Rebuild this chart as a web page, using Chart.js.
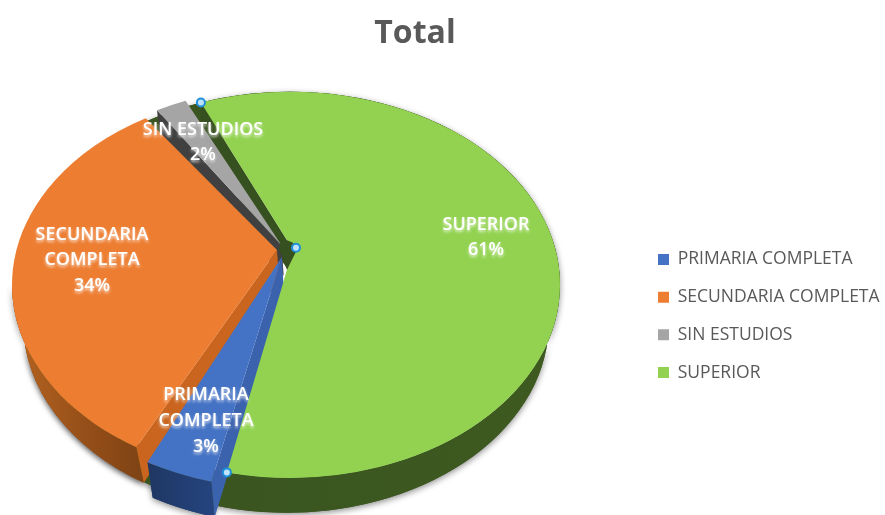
<!DOCTYPE html>
<html>
<head>
<meta charset="utf-8">
<script src="https://cdn.jsdelivr.net/npm/chart.js@4"></script>
<style>html,body{margin:0;padding:0;background:#fff}canvas{display:block}</style>
</head>
<body>
<canvas id="c" width="885" height="515"></canvas>
<script>
const categories = ['PRIMARIA COMPLETA', 'SECUNDARIA COMPLETA', 'SIN ESTUDIOS', 'SUPERIOR'];
const values = [3, 34, 2, 61];
const titleText = 'Total';

const topColors = ['#4472c4', '#ed7d31', '#a5a5a5', '#92d250'];
const labelLines = [['PRIMARIA', 'COMPLETA'], ['SECUNDARIA', 'COMPLETA'], ['SIN ESTUDIOS'], ['SUPERIOR']];
const labelAnchors = [[206, 395], [92, 234.5], [203, 129.5], [486, 224.5]];

// view of the tilted pie
const view = {
  cx: 286, cy: 285, rx: 270, ry: 193,
  apexX: 285, apexY: 250,
  depth: 38, apexDepth: 30, brx: 262, bry: 190,
  gap: 2.175, stretch: [1.37, 0.956, 0.93, 0.969]
};
const hubNotch = [[-12, -12], [0, -7], [3, 2], [-6, 20], [-9, 12], [-11, 6], [-14, 0]];
const rad = d => d * Math.PI / 180;

function sliceGeometry(chart) {
  const meta = chart.getDatasetMeta(0);
  let out = [];
  let cursor = chart.options.rotation;
  meta.data.forEach((el, i) => {
    const sweep = (el.endAngle - el.startAngle) * 180 / Math.PI * view.stretch[i];
    const a = cursor, b = cursor + sweep;
    cursor = b + view.gap;
    const mid = rad((a + b) / 2);
    const s = Math.sin(mid), c = -Math.cos(mid);
    const ex = 4 * s, ey = c * (c > 0 ? 12 : 5);
    const cx = view.cx + ex, cy = view.cy + ey;
    const ax = view.apexX + 2 * ex, ay = view.apexY + ey;
    out.push({
      a, b, cx, cy, ax, ay,
      bx: view.cx + ex * 0.2, by: cy + view.depth,
      bax: ax + 2, bay: ay + view.apexDepth
    });
  });
  return out;
}
const rimPoint = (g, phi) => [g.cx + view.rx * Math.sin(rad(phi)), g.cy - view.ry * Math.cos(rad(phi))];
const lowPoint = (g, phi) => [g.bx + view.brx * Math.sin(rad(phi)), g.by - view.bry * Math.cos(rad(phi))];

function face(ctx, g, color) {
  ctx.beginPath();
  ctx.moveTo(g.ax, g.ay);
  ctx.ellipse(g.cx, g.cy, view.rx, view.ry, 0, rad(g.a - 90), rad(g.b - 90));
  ctx.closePath();
  ctx.fillStyle = color;
  ctx.fill();
}
function outerWall(ctx, g, a, b, fill) {
  ctx.beginPath();
  ctx.ellipse(g.cx, g.cy, view.rx, view.ry, 0, rad(a - 90), rad(b - 90));
  ctx.ellipse(g.bx, g.by, view.brx, view.bry, 0, rad(b - 90), rad(a - 90), true);
  ctx.closePath();
  ctx.fillStyle = fill;
  ctx.fill();
}
function edgeWall(ctx, g, phi, fill) {
  const p = rimPoint(g, phi), q = lowPoint(g, phi);
  ctx.beginPath();
  ctx.moveTo(g.ax, g.ay);
  ctx.lineTo(p[0], p[1]);
  ctx.lineTo(q[0], q[1]);
  ctx.lineTo(g.bax, g.bay);
  ctx.closePath();
  ctx.fillStyle = fill;
  ctx.fill();
}
function handle(ctx, x, y) {
  ctx.beginPath();
  ctx.arc(x, y, 4, 0, Math.PI * 2);
  ctx.fillStyle = '#bfe3fa';
  ctx.fill();
  ctx.lineWidth = 2;
  ctx.strokeStyle = '#1f8fdc';
  ctx.stroke();
}

const pie3d = {
  id: 'pie3d',
  beforeDraw(chart) {
    const t = chart.titleBlock;
    t.left = 0; t.right = 830; t.top = 15; t.bottom = 15 + t.height;
    const lg = chart.legend;
    lg.left = 658 - lg.options.labels.padding;
  },
  beforeDatasetDraw(chart) {
    const ctx = chart.ctx;
    const [blue0, orange, gray, green] = sliceGeometry(chart);
    const blue = { ...blue0, ay: blue0.ay - 4 };
    ctx.save();

    // soft shadow under the outer walls
    ctx.shadowColor = 'rgba(0,0,0,0.45)';
    ctx.shadowBlur = 6;
    ctx.shadowOffsetX = 0;
    ctx.shadowOffsetY = 2;
    outerWall(ctx, green, 90, green.b, '#3c5620');
    outerWall(ctx, orange, orange.a, 270, '#8e4d18');
    outerWall(ctx, blue, blue.a, blue.b, '#1f3864');
    ctx.shadowColor = 'transparent';

    // pale shaded gap along the far side of the blue slice
    edgeWall(ctx, green, green.b, '#bdbdbd');

    // green rear + edge walls
    const gw = ctx.createLinearGradient(230, 0, 560, 0);
    gw.addColorStop(0, '#3a5520');
    gw.addColorStop(1, '#3e5a20');
    outerWall(ctx, green, 90, green.b, gw);
    edgeWall(ctx, green, green.a, '#37501f');

    // grey edge wall
    edgeWall(ctx, gray, gray.a, '#404040');

    // orange walls
    const ow = ctx.createLinearGradient(20, 0, 148, 0);
    ow.addColorStop(0, '#b3621f');
    ow.addColorStop(0.5, '#964f19');
    ow.addColorStop(1, '#7c4214');
    outerWall(ctx, orange, orange.a, 270, ow);
    edgeWall(ctx, orange, orange.a, '#c9651f');

    // blue walls
    const bw = ctx.createLinearGradient(150, 0, 215, 0);
    bw.addColorStop(0, '#1f3763');
    bw.addColorStop(1, '#254480');
    outerWall(ctx, blue, blue.a, blue.b, bw);
    edgeWall(ctx, blue, blue.a, '#3a62ad');

    // top faces
    face(ctx, orange, topColors[1]);
    face(ctx, gray, topColors[2]);
    face(ctx, green, topColors[3]);

    // dark hub of the green slice
    ctx.beginPath();
    hubNotch.forEach((p, i) => {
      const x = green.ax + p[0], y = green.ay + p[1];
      if (i) ctx.lineTo(x, y); else ctx.moveTo(x, y);
    });
    ctx.closePath();
    ctx.fillStyle = '#37501f';
    ctx.fill();

    face(ctx, blue, topColors[0]);

    // labels
    const total = values.reduce((s, v) => s + v, 0);
    ctx.font = '600 18px "Open Sans"';
    ctx.textAlign = 'center';
    ctx.textBaseline = 'middle';
    ctx.fillStyle = '#ffffff';
    ctx.shadowColor = 'rgba(255,255,255,0.75)';
    ctx.shadowBlur = 3;
    values.forEach((v, i) => {
      const lines = labelLines[i].concat(Math.round(v / total * 100) + '%');
      lines.forEach((line, k) => {
        ctx.fillText(line, labelAnchors[i][0], labelAnchors[i][1] + k * 25.7);
      });
    });
    ctx.shadowColor = 'transparent';

    // selection handles of the green slice
    const s = rimPoint(green, green.a), e = rimPoint(green, green.b);
    handle(ctx, s[0], s[1]);
    handle(ctx, green.ax + 3, green.ay - 2);
    handle(ctx, e[0], e[1]);
    ctx.restore();
    return false;
  }
};

new Chart(document.getElementById('c'), {
  type: 'pie',
  data: {
    labels: categories,
    datasets: [{ data: values, backgroundColor: topColors, borderWidth: 0 }]
  },
  options: {
    responsive: false,
    animation: false,
    rotation: 195.7,
    layout: { padding: { top: 117, right: 0, bottom: 0, left: 0 } },
    plugins: {
      tooltip: { enabled: false },
      title: {
        display: true, text: titleText, color: '#595959',
        font: { family: '"Open Sans"', size: 32, weight: 'bold' },
        padding: 0
      },
      legend: {
        position: 'right',
        labels: {
          color: '#595959', boxWidth: 11, boxHeight: 11, padding: 20.2,
          font: { family: '"Open Sans"', size: 17.5 }
        }
      }
    }
  },
  plugins: [pie3d]
});
</script>
</body>
</html>
